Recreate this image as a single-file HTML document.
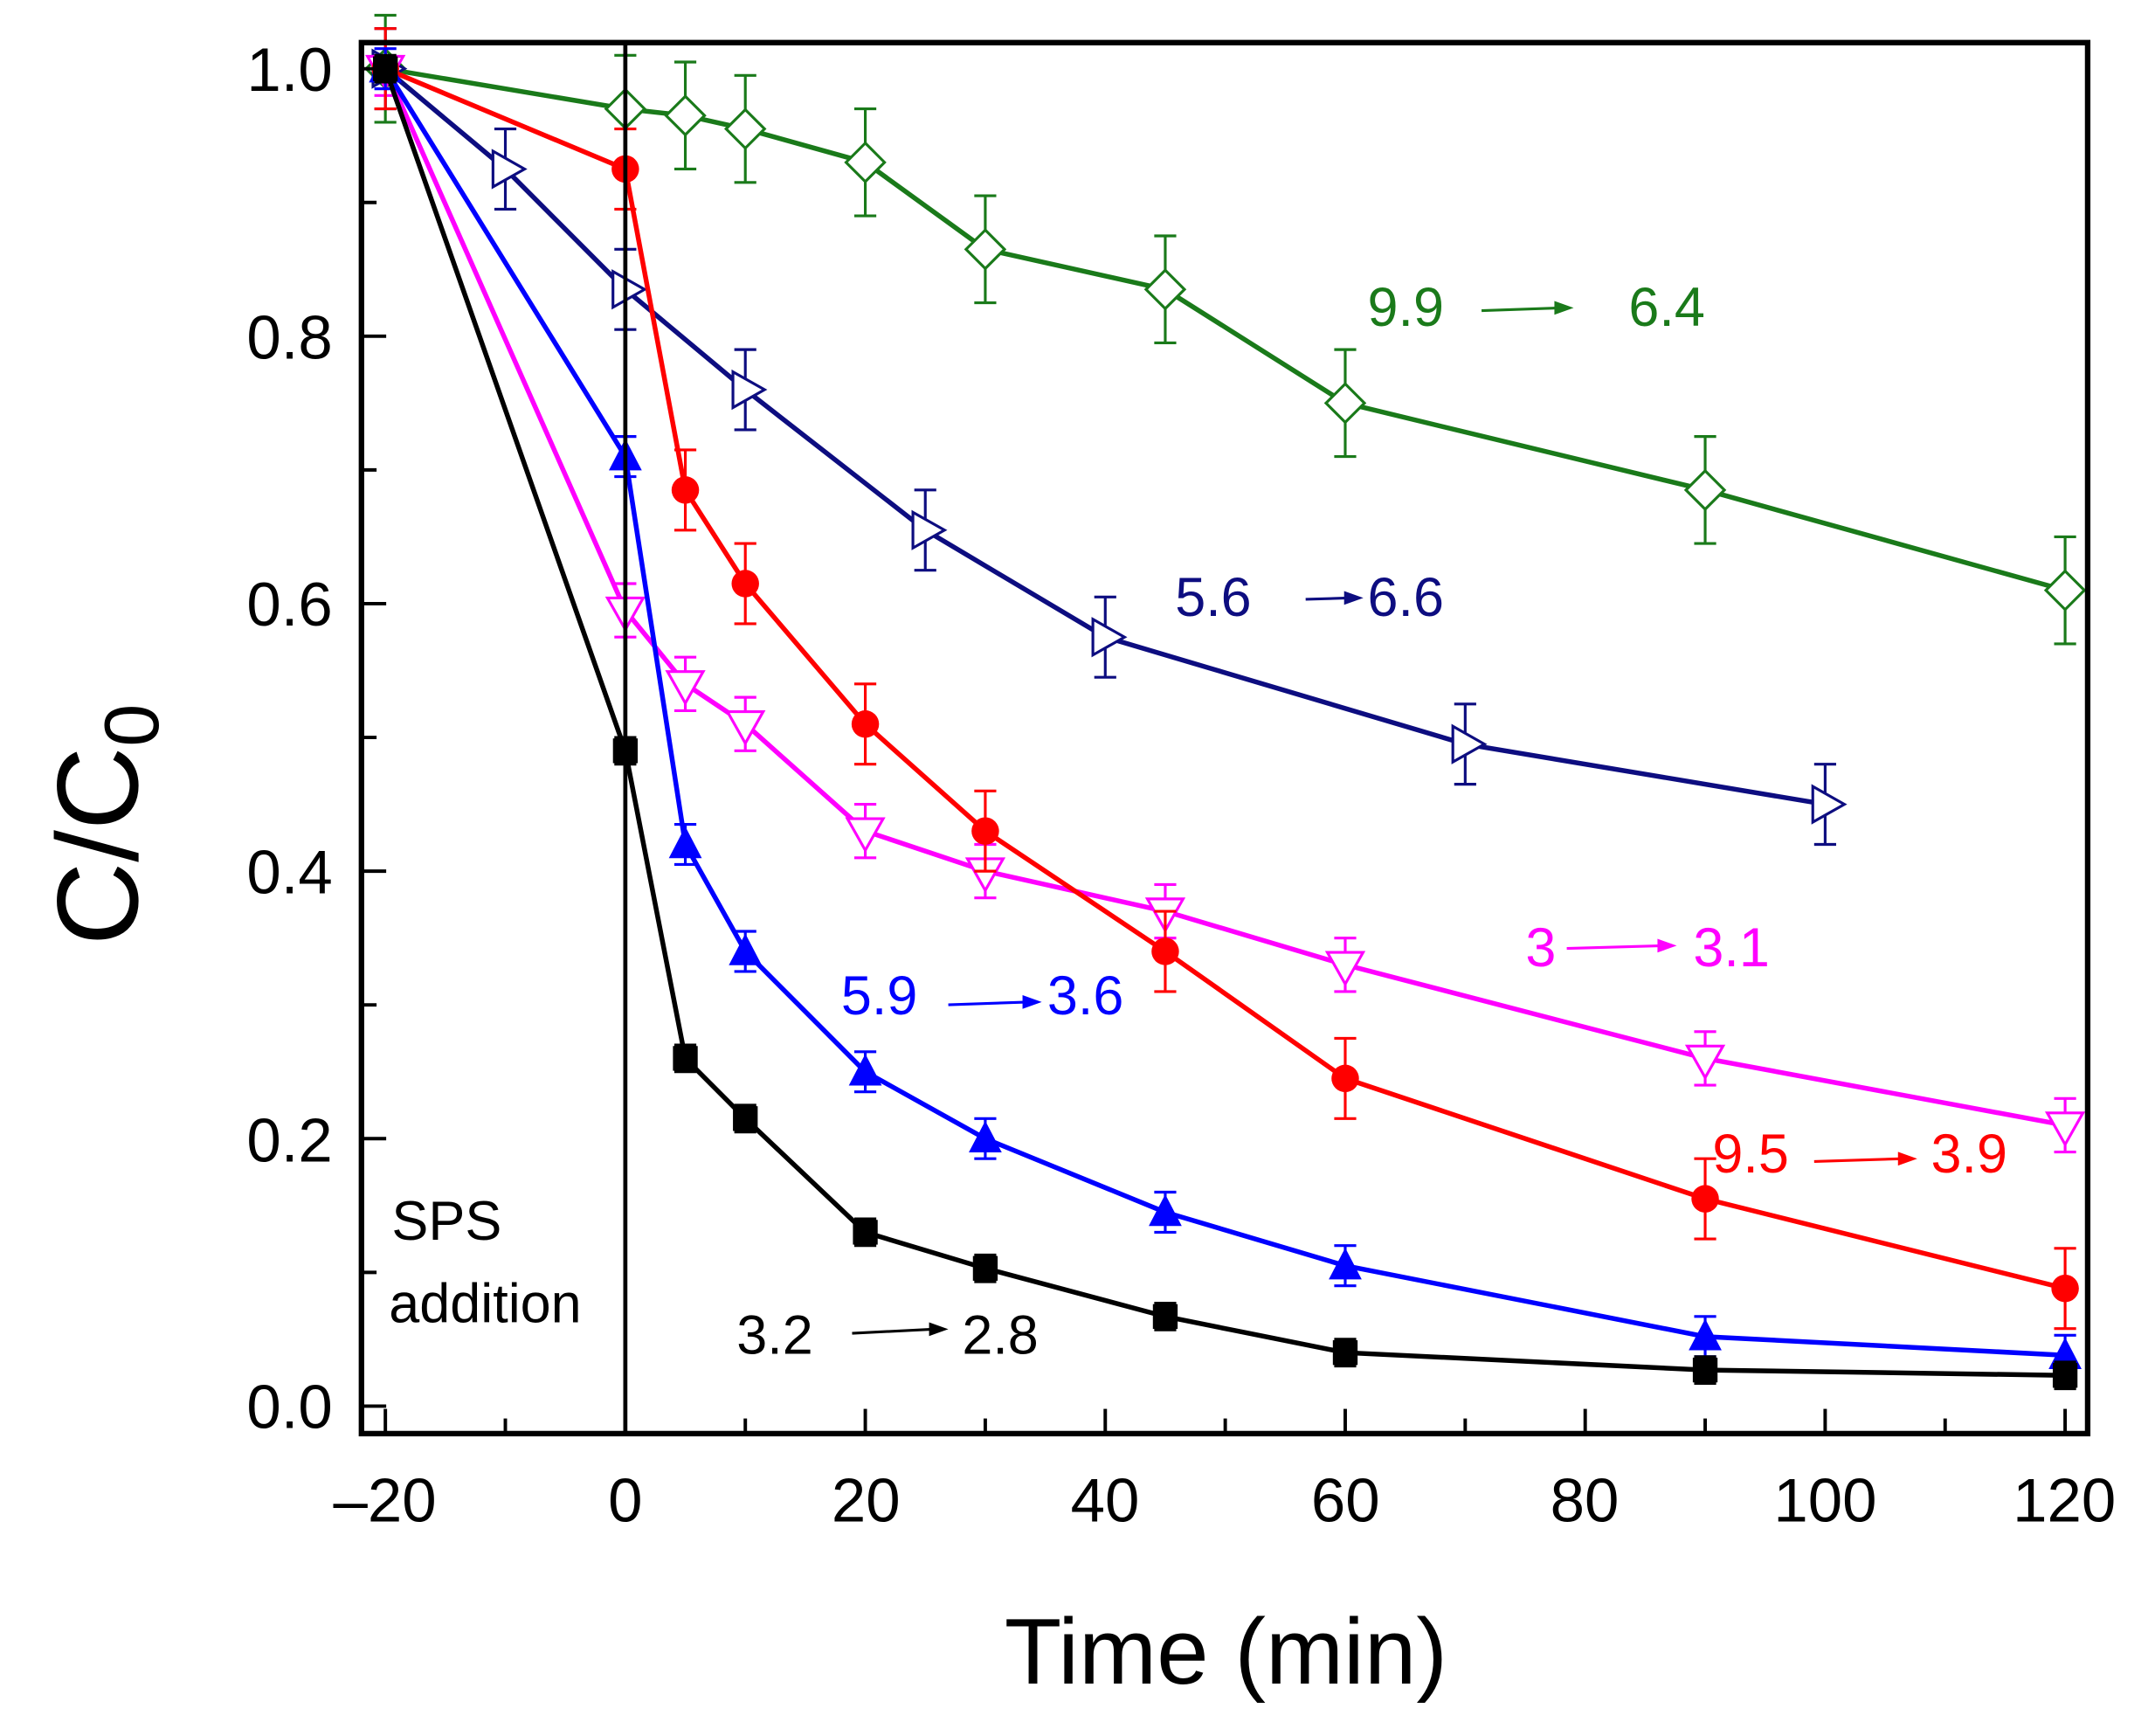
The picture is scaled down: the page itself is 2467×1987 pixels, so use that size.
<!DOCTYPE html>
<html><head><style>html,body{margin:0;padding:0;background:#fff}svg{display:block}</style></head>
<body>
<svg width="2467" height="1987" viewBox="0 0 1568 1263" preserveAspectRatio="none" xmlns="http://www.w3.org/2000/svg" font-family="Liberation Sans, Arial, sans-serif">
<rect width="1568" height="1263" fill="#fff"/>
<g id="plot"></g>
<rect x="263" y="31" width="1256" height="1012" fill="none" stroke="#000" stroke-width="4"/>
<line x1="455" y1="31" x2="455" y2="1043" stroke="#000" stroke-width="3"/>
<g stroke="#000" stroke-width="2.5" id="ticks"></g>
<g font-size="45" text-anchor="end" fill="#000">
<text x="242" y="66">1.0</text><text x="242" y="261">0.8</text><text x="242" y="455">0.6</text>
<text x="242" y="650">0.4</text><text x="242" y="845">0.2</text><text x="242" y="1039">0.0</text>
</g>
<g font-size="45" text-anchor="middle" fill="#000">
<text x="280" y="1107">–20</text><text x="455" y="1107">0</text><text x="630" y="1107">20</text>
<text x="804" y="1107">40</text><text x="979" y="1107">60</text><text x="1153" y="1107">80</text>
<text x="1328" y="1107">100</text><text x="1502" y="1107">120</text>
</g>
<text x="892" y="1225" font-size="68" text-anchor="middle">Time (min)</text>
<text transform="translate(100,600) rotate(-90)" font-size="84" text-anchor="middle">C/C<tspan font-size="56" dy="15">0</tspan></text>
<g font-size="40">
<text x="285" y="902">SPS</text><text x="283" y="962">addition</text>
<text x="536" y="985" fill="#000">3.2</text><text x="700" y="985" fill="#000">2.8</text>
<text x="995" y="237" fill="#1a7a1a">9.9</text><text x="1185" y="237" fill="#1a7a1a">6.4</text>
<text x="855" y="448" fill="#0d0d80">5.6</text><text x="995" y="448" fill="#0d0d80">6.6</text>
<text x="1110" y="703" fill="#ff00ff">3</text><text x="1232" y="703" fill="#ff00ff">3.1</text>
<text x="612" y="738" fill="#0000ff">5.9</text><text x="762" y="738" fill="#0000ff">3.6</text>
<text x="1246" y="853" fill="#ff0000">9.5</text><text x="1405" y="853" fill="#ff0000">3.9</text>
</g>
<g stroke-width="2">
<line x1="620" y1="970" x2="680" y2="967" stroke="#000"/><polygon points="690,967 676,962 676,972" fill="#000"/>
<line x1="1078" y1="226" x2="1135" y2="224" stroke="#1a7a1a"/><polygon points="1145,224 1131,219 1131,229" fill="#1a7a1a"/>
<line x1="950" y1="436" x2="983" y2="435" stroke="#0d0d80"/><polygon points="992,435 978,430 978,440" fill="#0d0d80"/>
<line x1="1140" y1="690" x2="1210" y2="688" stroke="#ff00ff"/><polygon points="1220,688 1206,683 1206,693" fill="#ff00ff"/>
<line x1="690" y1="731" x2="748" y2="729" stroke="#0000ff"/><polygon points="758,729 744,724 744,734" fill="#0000ff"/>
<line x1="1320" y1="845" x2="1385" y2="843" stroke="#ff0000"/><polygon points="1395,843 1381,838 1381,848" fill="#ff0000"/>
</g>
<script>
const X=t=>455+t*8.73, Y=v=>1023-v*973;
const ns="http://www.w3.org/2000/svg";
const tk=document.getElementById('ticks');
function el(p,n,a){const e=document.createElementNS(ns,n);for(const k in a)e.setAttribute(k,a[k]);p.appendChild(e);return e;}
for(let t=-20;t<=120;t+=10){const L=(t%20==0)?18:11;el(tk,'line',{x1:X(t),y1:1043,x2:X(t),y2:1043-L});}
for(let v=0;v<=10;v++){const L=(v%2==0)?18:11;el(tk,'line',{x1:263,y1:Y(v/10),x2:263+L,y2:Y(v/10)});}
const P=document.getElementById('plot');
const S=[
{c:'#1a7a1a',m:'dia',e:0.04,d:[[-20,1],[0,.97],[5,.965],[10,.955],[20,.93],[30,.865],[45,.835],[60,.75],[90,.685],[120,.61]]},
{c:'#0d0d80',m:'rt',e:0.03,d:[[-20,1],[-10,.925],[0,.835],[10,.76],[25,.655],[40,.575],[70,.495],[100,.45]]},
{c:'#ff00ff',m:'dn',e:0.02,d:[[-20,1],[0,.595],[5,.54],[10,.51],[20,.43],[30,.40],[45,.37],[60,.33],[90,.26],[120,.21]]},
{c:'#ff0000',m:'ci',e:0.03,d:[[-20,1],[0,.925],[5,.685],[10,.615],[20,.51],[30,.43],[45,.34],[60,.245],[90,.155],[120,.088]]},
{c:'#0000ff',m:'up',e:0.015,d:[[-20,1],[0,.71],[5,.42],[10,.34],[20,.25],[30,.20],[45,.145],[60,.105],[90,.052],[120,.038]]},
{c:'#000000',m:'sq',e:0.01,d:[[-20,1],[0,.49],[5,.26],[10,.215],[20,.13],[30,.103],[45,.067],[60,.04],[90,.027],[120,.023]]}];
for(const s of S){
 el(P,'polyline',{points:s.d.map(p=>X(p[0])+','+Y(p[1])).join(' '),fill:'none',stroke:s.c,'stroke-width':3.5});
 for(const p of s.d){const x=X(p[0]),y=Y(p[1]),e=s.e*973;
  el(P,'path',{d:`M${x},${y-e}V${y+e}M${x-8},${y-e}h16M${x-8},${y+e}h16`,stroke:s.c,'stroke-width':2,fill:'none'});
  if(s.m=='dia')el(P,'polygon',{points:`${x},${y-14} ${x+14},${y} ${x},${y+14} ${x-14},${y}`,fill:'#fff',stroke:s.c,'stroke-width':2});
  if(s.m=='rt')el(P,'polygon',{points:`${x-9},${y-13} ${x+14},${y} ${x-9},${y+13}`,fill:'#fff',stroke:s.c,'stroke-width':2});
  if(s.m=='dn')el(P,'polygon',{points:`${x-13},${y-9} ${x+13},${y-9} ${x},${y+14}`,fill:'#fff',stroke:s.c,'stroke-width':2});
  if(s.m=='ci')el(P,'circle',{cx:x,cy:y,r:10,fill:s.c});
  if(s.m=='up')el(P,'polygon',{points:`${x-12},${y+10} ${x+12},${y+10} ${x},${y-13}`,fill:s.c});
  if(s.m=='sq')el(P,'rect',{x:x-9,y:y-9,width:18,height:18,fill:s.c});
 }}
</script>
</svg>
</body></html>
